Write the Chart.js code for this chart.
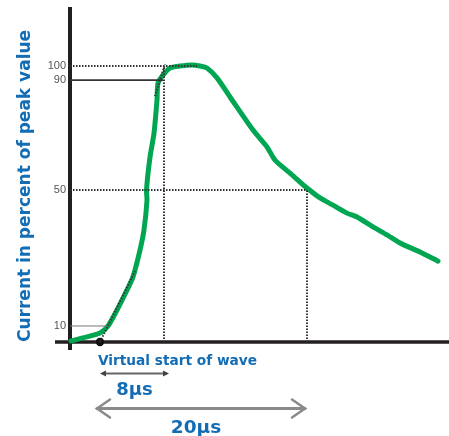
<!DOCTYPE html>
<html>
<head>
<meta charset="utf-8">
<script src="https://cdn.jsdelivr.net/npm/chart.js@4"></script>
<style>
html,body{margin:0;padding:0;background:#fff;}
#wrap{width:449px;height:436px;}
</style>
</head>
<body>
<div id="wrap"><canvas id="c" width="449" height="436"></canvas></div>
<script>
// ---- data (time in drawn µs-like units, current in drawn % of peak) ----
const waveTime    = [0.1, 1.3, 3.0, 3.8, 4.7, 5.7, 6.3, 7.0, 7.4, 7.7, 7.65, 8.0, 8.4, 8.7, 8.8, 9.3, 10.0, 11.0, 12.2, 13.0, 13.7, 14.7, 16.0, 18.3, 19.7, 20.5, 22.0, 23.7, 25.0, 26.3, 27.7, 28.7, 30.3, 31.7, 33.0, 35.0, 36.8];
const waveCurrent = [0.4, 1.5, 3.3, 5.8, 11.6, 18.8, 23.6, 33.3, 40.6, 51.4, 55.1, 67.0, 75.7, 87.7, 93.8, 96.7, 99.3, 100.0, 100.4, 100.0, 99.3, 95.7, 88.8, 76.8, 70.7, 65.9, 61.2, 55.8, 52.2, 49.6, 46.7, 45.3, 41.7, 38.8, 35.9, 32.6, 29.3];

const yTickLabels = ['10', '50', '90', '100'];
const yTickValues = [5.8, 55.1, 94.9, 100];

const virtualStart = 3.0;   // virtual origin O1
const t1Time = 9.4;         // front time marker (8 µs)
const t2Time = 23.7;        // time to half value (20 µs)
const level10 = 5.8, level50 = 55.1, level90 = 94.9, level100 = 100;
const tangentLow  = [[3.0, 0], [6.5, 25.7]];
const tangentHigh = [[8.5, 89.1], [9.5, 100.7]];

const labelVirtual = 'Virtual start of wave';
const label8  = '8µs';
const label20 = '20µs';
const arrow8  = [3.0, 9.9];
const arrow20 = [2.7, 23.5];

const BLUE = '#136db5';
const GREEN = '#00a651';

const wave = waveTime.map((t, i) => ({x: t, y: waveCurrent[i]}));
const seg = (a, b) => [{x: a[0], y: a[1]}, {x: b[0], y: b[1]}];
const dotted = (data, extra) => Object.assign({
  data, borderColor: '#333', borderWidth: 2, borderDash: [1.5, 1.5],
  pointRadius: 0, fill: false, tension: 0, order: 0
}, extra || {});

const axesPlugin = {
  id: 'axes',
  beforeDatasetsDraw(chart) {
    const {ctx, chartArea: a} = chart;
    ctx.save();
    ctx.strokeStyle = '#231f20';
    ctx.lineWidth = 4;
    ctx.beginPath();
    ctx.moveTo(a.left, a.top);
    ctx.lineTo(a.left, a.bottom + 8);
    ctx.stroke();
    ctx.lineWidth = 3.5;
    ctx.beginPath();
    ctx.moveTo(a.left - 15, a.bottom);
    ctx.lineTo(chart.width, a.bottom);
    ctx.stroke();
    ctx.restore();
  },
  afterDraw(chart) {
    const {ctx, chartArea: a, scales: {x}} = chart;
    const px = v => x.getPixelForValue(v);
    ctx.save();
    ctx.fillStyle = BLUE;
    ctx.textBaseline = 'alphabetic';
    ctx.font = 'bold 13.7px "DejaVu Sans"';
    ctx.textAlign = 'left';
    ctx.fillText(labelVirtual, px(virtualStart) - 2, a.bottom + 23);

    // 8 µs arrow
    const y8 = a.bottom + 31.5;
    const x8a = px(arrow8[0]), x8b = px(arrow8[1]);
    ctx.strokeStyle = '#666';
    ctx.fillStyle = '#444';
    ctx.lineWidth = 2;
    ctx.beginPath(); ctx.moveTo(x8a + 2, y8); ctx.lineTo(x8b - 2, y8); ctx.stroke();
    ctx.beginPath(); ctx.moveTo(x8a, y8); ctx.lineTo(x8a + 6, y8 - 3); ctx.lineTo(x8a + 6, y8 + 3); ctx.closePath(); ctx.fill();
    ctx.beginPath(); ctx.moveTo(x8b, y8); ctx.lineTo(x8b - 6, y8 - 3); ctx.lineTo(x8b - 6, y8 + 3); ctx.closePath(); ctx.fill();

    ctx.fillStyle = BLUE;
    ctx.font = 'bold 18px "DejaVu Sans"';
    ctx.textAlign = 'center';
    ctx.fillText(label8, (x8a + x8b) / 2, a.bottom + 53);

    // 20 µs arrow
    const y20 = a.bottom + 66.5;
    const x20a = px(arrow20[0]), x20b = px(arrow20[1]);
    ctx.strokeStyle = '#8a8a8a';
    ctx.lineWidth = 3;
    ctx.lineCap = 'round';
    ctx.beginPath(); ctx.moveTo(x20a, y20); ctx.lineTo(x20b, y20); ctx.stroke();
    ctx.lineWidth = 2.5;
    ctx.beginPath(); ctx.moveTo(x20a + 13, y20 - 9); ctx.lineTo(x20a, y20); ctx.lineTo(x20a + 13, y20 + 9); ctx.stroke();
    ctx.beginPath(); ctx.moveTo(x20b - 13, y20 - 9); ctx.lineTo(x20b, y20); ctx.lineTo(x20b - 13, y20 + 9); ctx.stroke();

    ctx.fillStyle = BLUE;
    ctx.font = 'bold 18.5px "DejaVu Sans"';
    ctx.fillText(label20, (x20a + x20b) / 2 - 5, a.bottom + 91);
    ctx.restore();
  }
};

new Chart(document.getElementById('c'), {
  type: 'line',
  data: {
    datasets: [
      dotted(seg(tangentLow[0], tangentLow[1])),
      dotted(seg(tangentHigh[0], tangentHigh[1])),
      dotted([{x: 0, y: level100}, {x: 12.7, y: level100}]),
      dotted([{x: 0, y: level50}, {x: t2Time, y: level50}]),
      dotted([{x: t1Time, y: 0}, {x: t1Time, y: level100}]),
      dotted([{x: t2Time, y: 0}, {x: t2Time, y: level50}]),
      {data: [{x: 0, y: level90}, {x: 9.3, y: level90}], borderColor: '#333', borderWidth: 1.6, pointRadius: 0, order: 0},
      {data: [{x: 0, y: level10}, {x: 3.8, y: level10}], borderColor: '#777', borderWidth: 1.2, pointRadius: 0, order: 0},
      {data: [{x: virtualStart, y: 0}], showLine: false, pointRadius: 4.2, pointBackgroundColor: '#111', pointBorderWidth: 0, order: 0, clip: false},
      {data: wave, borderColor: GREEN, borderWidth: 5, pointRadius: 0, tension: 0.25, borderCapStyle: 'round', borderJoinStyle: 'round', order: 1, clip: false}
    ]
  },
  options: {
    responsive: false,
    animation: false,
    devicePixelRatio: 1,
    layout: {autoPadding: false, padding: {top: 7, right: 0, left: 0, bottom: 0}},
    plugins: {legend: {display: false}, tooltip: {enabled: false}},
    scales: {
      x: {
        type: 'linear', min: 0, max: 37.9,
        grid: {display: false, drawTicks: false},
        border: {display: false},
        ticks: {display: false},
        afterFit(s) { s.height = 94; s.paddingLeft = 0; s.paddingRight = 0; }
      },
      y: {
        type: 'linear', min: 0, max: 121.4,
        grid: {display: false, drawTicks: false},
        border: {display: false},
        afterBuildTicks(s) { s.ticks = yTickValues.map(v => ({value: v})); },
        ticks: {
          padding: 4,
          color: '#555',
          font: {family: '"Liberation Sans"', size: 11},
          callback(v) { const i = yTickValues.indexOf(v); return i >= 0 ? yTickLabels[i] : ''; }
        },
        title: {
          display: true, text: 'Current in percent of peak value', align: 'start',
          color: BLUE, font: {family: '"DejaVu Sans"', size: 17, weight: 'bold'},
          padding: {top: 15, bottom: 0}
        },
        afterFit(s) { s.width = 70; s.paddingTop = 0; s.paddingBottom = 0; }
      }
    }
  },
  plugins: [axesPlugin]
});
</script>
</body>
</html>
